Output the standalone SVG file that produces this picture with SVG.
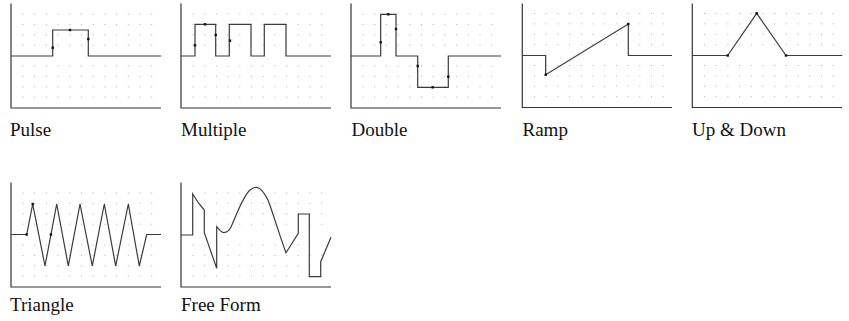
<svg xmlns="http://www.w3.org/2000/svg" width="849" height="321" viewBox="0 0 849 321">
<style>
.axis{fill:none;stroke:#333;stroke-width:1.2}
.grid{fill:none;stroke:#b0b0b0;stroke-width:1;stroke-dasharray:1 10.7}
.wave{fill:none;stroke:#3a3a3a;stroke-width:1.2;stroke-linejoin:miter}
.pt{fill:#111}
.lbl{font-family:"Liberation Serif","Times New Roman",serif;font-size:19px;fill:#111}
</style>
<defs>
<rect id="m" x="-1.2" y="-1.2" width="2.4" height="2.4" class="pt"/>
<path id="g1" class="grid" d="M0,14h130M0,24.4h130M0,34.8h130M0,45.2h130M0,66h130M0,76.4h130M0,86.8h130M0,97.2h130"/>
</defs>
<g id="grids">
<use href="#g1" x="22.5" y="0"/>
<use href="#g1" x="192.5" y="0"/>
<use href="#g1" x="362.5" y="0"/>
<use href="#g1" x="534" y="-0.5"/>
<use href="#g1" x="704" y="-0.5"/>
<use href="#g1" x="22.5" y="179"/>
<use href="#g1" x="192.5" y="179"/>
</g>
<g id="pulse">
<path class="axis" d="M11,3.5V108H161"/>
<path class="wave" d="M11,56H52.7V30H88.3V56H161"/>
<use href="#m" x="52.7" y="47.7"/><use href="#m" x="70" y="30"/><use href="#m" x="88.3" y="39"/>
<text class="lbl" x="10" y="136">Pulse</text>
</g>
<g id="multiple">
<path class="axis" d="M181,3.5V108H331"/>
<path class="wave" d="M181,56H195V24.3H215.7V56H229.3V24.3H251V56H264.3V24.3H286V56H331"/>
<use href="#m" x="195" y="45.3"/><use href="#m" x="205" y="24.3"/><use href="#m" x="215.7" y="35"/><use href="#m" x="230" y="40.7"/>
<text class="lbl" x="181" y="136">Multiple</text>
</g>
<g id="double">
<path class="axis" d="M351,3.5V108H501"/>
<path class="wave" d="M351,56H380.7V14.3H396V56H417.7V87.3H448.3V56H501"/>
<use href="#m" x="380.7" y="42.3"/><use href="#m" x="388.3" y="14.3"/><use href="#m" x="396" y="29"/><use href="#m" x="417.7" y="66"/><use href="#m" x="432.7" y="87.3"/><use href="#m" x="448.3" y="76.7"/>
<text class="lbl" x="351.5" y="136">Double</text>
</g>
<g id="ramp">
<path class="axis" d="M522.3,3.5V107.5H672"/>
<path class="wave" d="M522.3,55.5H545.7V74.7L628.3,24V55.5H672"/>
<use href="#m" x="545.7" y="74.7"/><use href="#m" x="628.3" y="24"/>
<text class="lbl" x="522.5" y="136">Ramp</text>
</g>
<g id="updown">
<path class="axis" d="M692.3,3.5V107.5H842"/>
<path class="wave" d="M692.3,55.5H727.7L756.7,13.3L786,55.5H842.3"/>
<use href="#m" x="727.7" y="55.5"/><use href="#m" x="756.7" y="13.3"/><use href="#m" x="786" y="55.5"/>
<text class="lbl" x="692" y="136">Up &amp; Down</text>
</g>
<g id="triangle">
<path class="axis" d="M11,182.5V287H161"/>
<path class="wave" d="M11,234.5H26.7L32.7,204L45,266L56.7,204L68.3,266L80,204L92.3,266L104.3,204L115.7,266L128.3,204L139.3,266L146.7,234.5H161"/>
<use href="#m" x="26.7" y="234.5"/><use href="#m" x="32.7" y="204"/><use href="#m" x="50.9" y="234.5"/>
<text class="lbl" x="10" y="311">Triangle</text>
</g>
<g id="freeform">
<path class="axis" d="M181,182.5V287H331"/>
<path class="wave" d="M181,235H192.7V194L198.3,202.7L204.3,210V232.7L216.7,268.3V226.7C219,229 221,232.5 224,232.5C227,232.5 229,231 231,227C236,216 243,196 250,190C253,187.5 255,187 257,187.3C261,188 264,192 268,200C272,210 280,237 286,252.7L298.3,233.3V214H309.3V276.7H320.7V261.7L331,237.3"/>
<text class="lbl" x="181" y="311">Free Form</text>
</g>
</svg>
